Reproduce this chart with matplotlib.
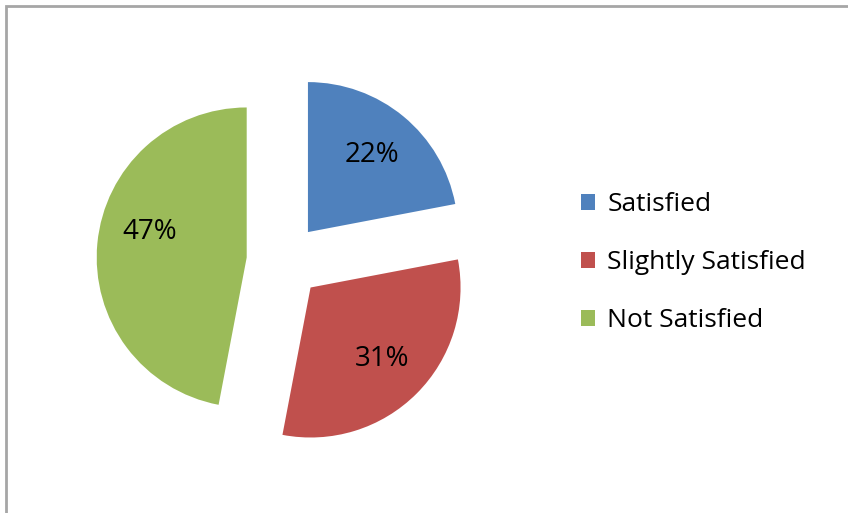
import matplotlib.pyplot as plt
from matplotlib.patches import Rectangle

plt.rcParams['font.family'] = ['Open Sans', 'DejaVu Sans']

labels = ['Satisfied', 'Slightly Satisfied', 'Not Satisfied']
shares = [22, 31, 47]
colors = ['#4F81BD', '#C0504D', '#9BBB59']

fig = plt.figure(figsize=(8.48, 5.13), dpi=100)

# grey chart-area frame (right and bottom edges fall outside the picture)
fig.patches.append(Rectangle((6 / 848, -0.2), 1.2, 1.2 - 6 / 513,
                             transform=fig.transFigure, fill=False,
                             edgecolor='#A6A6A6', linewidth=2.0))

ax = fig.add_axes([0.0873, 0.0819, 0.4953, 0.8187])
wedges, texts, autotexts = ax.pie(
    shares, colors=colors, startangle=90, counterclock=False,
    explode=[0.25] * 3, autopct='%d%%', pctdistance=0.67,
    textprops={'fontsize': 20, 'color': 'black'})
# Excel puts the 47% label a little higher than the wedge middle
x, y = autotexts[2].get_position()
autotexts[2].set_position((x + 0.02, y + 0.11))
ax.set_xlim(-1.4, 1.4)
ax.set_ylim(-1.4, 1.4)
ax.set_aspect('equal')
ax.axis('off')

fig.legend(wedges, labels, loc='center left', bbox_to_anchor=(0.657, 0.488),
           frameon=False, fontsize=19, handlelength=0.55, handleheight=0.55,
           handletextpad=0.45, labelspacing=1.25)

fig.savefig('out.png', dpi=100)
